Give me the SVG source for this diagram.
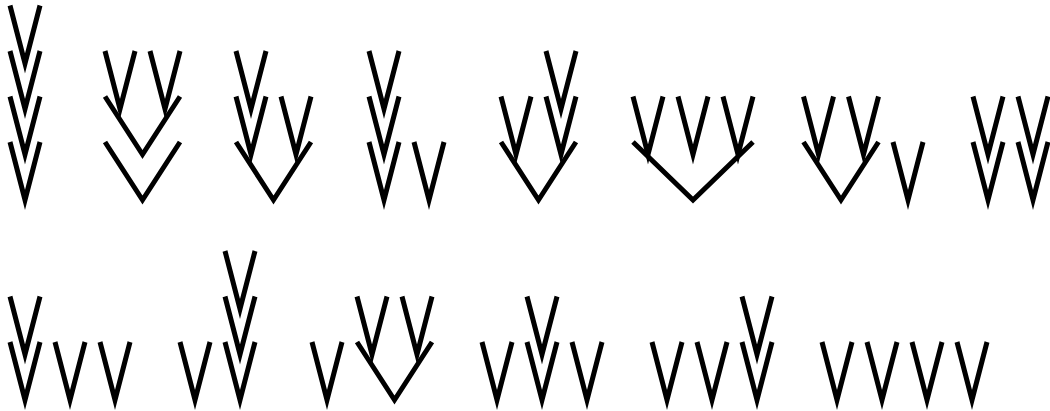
<svg xmlns="http://www.w3.org/2000/svg" width="1050" height="411" viewBox="0 0 1050 411">
<style>
.v{fill:none;stroke:#000;stroke-width:5;stroke-linejoin:miter;stroke-miterlimit:10;stroke-linecap:butt}
</style>
<rect width="1050" height="411" fill="#fff"/>
<g id="connectors"></g>
<!-- Row 1 -->
<g id="t1">
<path class="v" d="M10,142 L25,200 L40,142"/>
<path class="v" d="M10,96.5 L25,154.5 L40,96.5"/>
<path class="v" d="M10,51 L25,109 L40,51"/>
<path class="v" d="M10,5.5 L25,63.5 L40,5.5"/>
</g>
<g id="t2">
<path class="v" d="M105,142 L142.5,200 L180,142"/>
<path class="v" d="M105,96.5 L142.5,154.5 L180,96.5"/>
<path class="v" d="M105,51 L120,109 L135,51"/>
<path class="v" d="M150,51 L165,109 L180,51"/>
</g>
<g id="t3">
<path class="v" d="M236,142 L273.5,200 L311,142"/>
<path class="v" d="M236,96.5 L251,154.5 L266,96.5"/>
<path class="v" d="M236,51 L251,109 L266,51"/>
<path class="v" d="M281,96.5 L296,154.5 L311,96.5"/>
</g>
<g id="t4">
<path class="v" d="M369,142 L384,200 L399,142"/>
<path class="v" d="M369,96.5 L384,154.5 L399,96.5"/>
<path class="v" d="M369,51 L384,109 L399,51"/>
<path class="v" d="M414,142 L429,200 L444,142"/>
</g>
<g id="t5">
<path class="v" d="M501,142 L538.5,200 L576,142"/>
<path class="v" d="M501,96.5 L516,154.5 L531,96.5"/>
<path class="v" d="M546,96.5 L561,154.5 L576,96.5"/>
<path class="v" d="M546,51 L561,109 L576,51"/>
</g>
<g id="t6">
<path class="v" d="M633,142 L693,200 L753,142"/>
<path class="v" d="M633,96.5 L648,154.5 L663,96.5"/>
<path class="v" d="M678,96.5 L693,154.5 L708,96.5"/>
<path class="v" d="M723,96.5 L738,154.5 L753,96.5"/>
</g>
<g id="t7">
<path class="v" d="M803.5,142 L841,200 L878.5,142"/>
<path class="v" d="M803.5,96.5 L818.5,154.5 L833.5,96.5"/>
<path class="v" d="M848.5,96.5 L863.5,154.5 L878.5,96.5"/>
<path class="v" d="M893,142 L908,200 L923,142"/>
</g>
<g id="t8">
<path class="v" d="M973,142 L988,200 L1003,142"/>
<path class="v" d="M973,96.5 L988,154.5 L1003,96.5"/>
<path class="v" d="M1018,142 L1033,200 L1048,142"/>
<path class="v" d="M1018,96.5 L1033,154.5 L1048,96.5"/>
</g>
<!-- Row 2 -->
<g id="t9">
<path class="v" d="M10,342 L25,400 L40,342"/>
<path class="v" d="M10,296.5 L25,354.5 L40,296.5"/>
<path class="v" d="M55,342 L70,400 L85,342"/>
<path class="v" d="M100,342 L115,400 L130,342"/>
</g>
<g id="t10">
<path class="v" d="M180,342 L195,400 L210,342"/>
<path class="v" d="M225,342 L240,400 L255,342"/>
<path class="v" d="M225,296.5 L240,354.5 L255,296.5"/>
<path class="v" d="M225,251 L240,309 L255,251"/>
</g>
<g id="t11">
<path class="v" d="M312,342 L327,400 L342,342"/>
<path class="v" d="M357,342 L394.5,400 L432,342"/>
<path class="v" d="M357,296.5 L372,354.5 L387,296.5"/>
<path class="v" d="M402,296.5 L417,354.5 L432,296.5"/>
</g>
<g id="t12">
<path class="v" d="M482,342 L497,400 L512,342"/>
<path class="v" d="M527,342 L542,400 L557,342"/>
<path class="v" d="M527,296.5 L542,354.5 L557,296.5"/>
<path class="v" d="M572,342 L587,400 L602,342"/>
</g>
<g id="t13">
<path class="v" d="M652,342 L667,400 L682,342"/>
<path class="v" d="M697,342 L712,400 L727,342"/>
<path class="v" d="M742,342 L757,400 L772,342"/>
<path class="v" d="M742,296.5 L757,354.5 L772,296.5"/>
</g>
<g id="t14">
<path class="v" d="M822,342 L837,400 L852,342"/>
<path class="v" d="M867,342 L882,400 L897,342"/>
<path class="v" d="M912,342 L927,400 L942,342"/>
<path class="v" d="M957,342 L972,400 L987,342"/>
</g>
</svg>
